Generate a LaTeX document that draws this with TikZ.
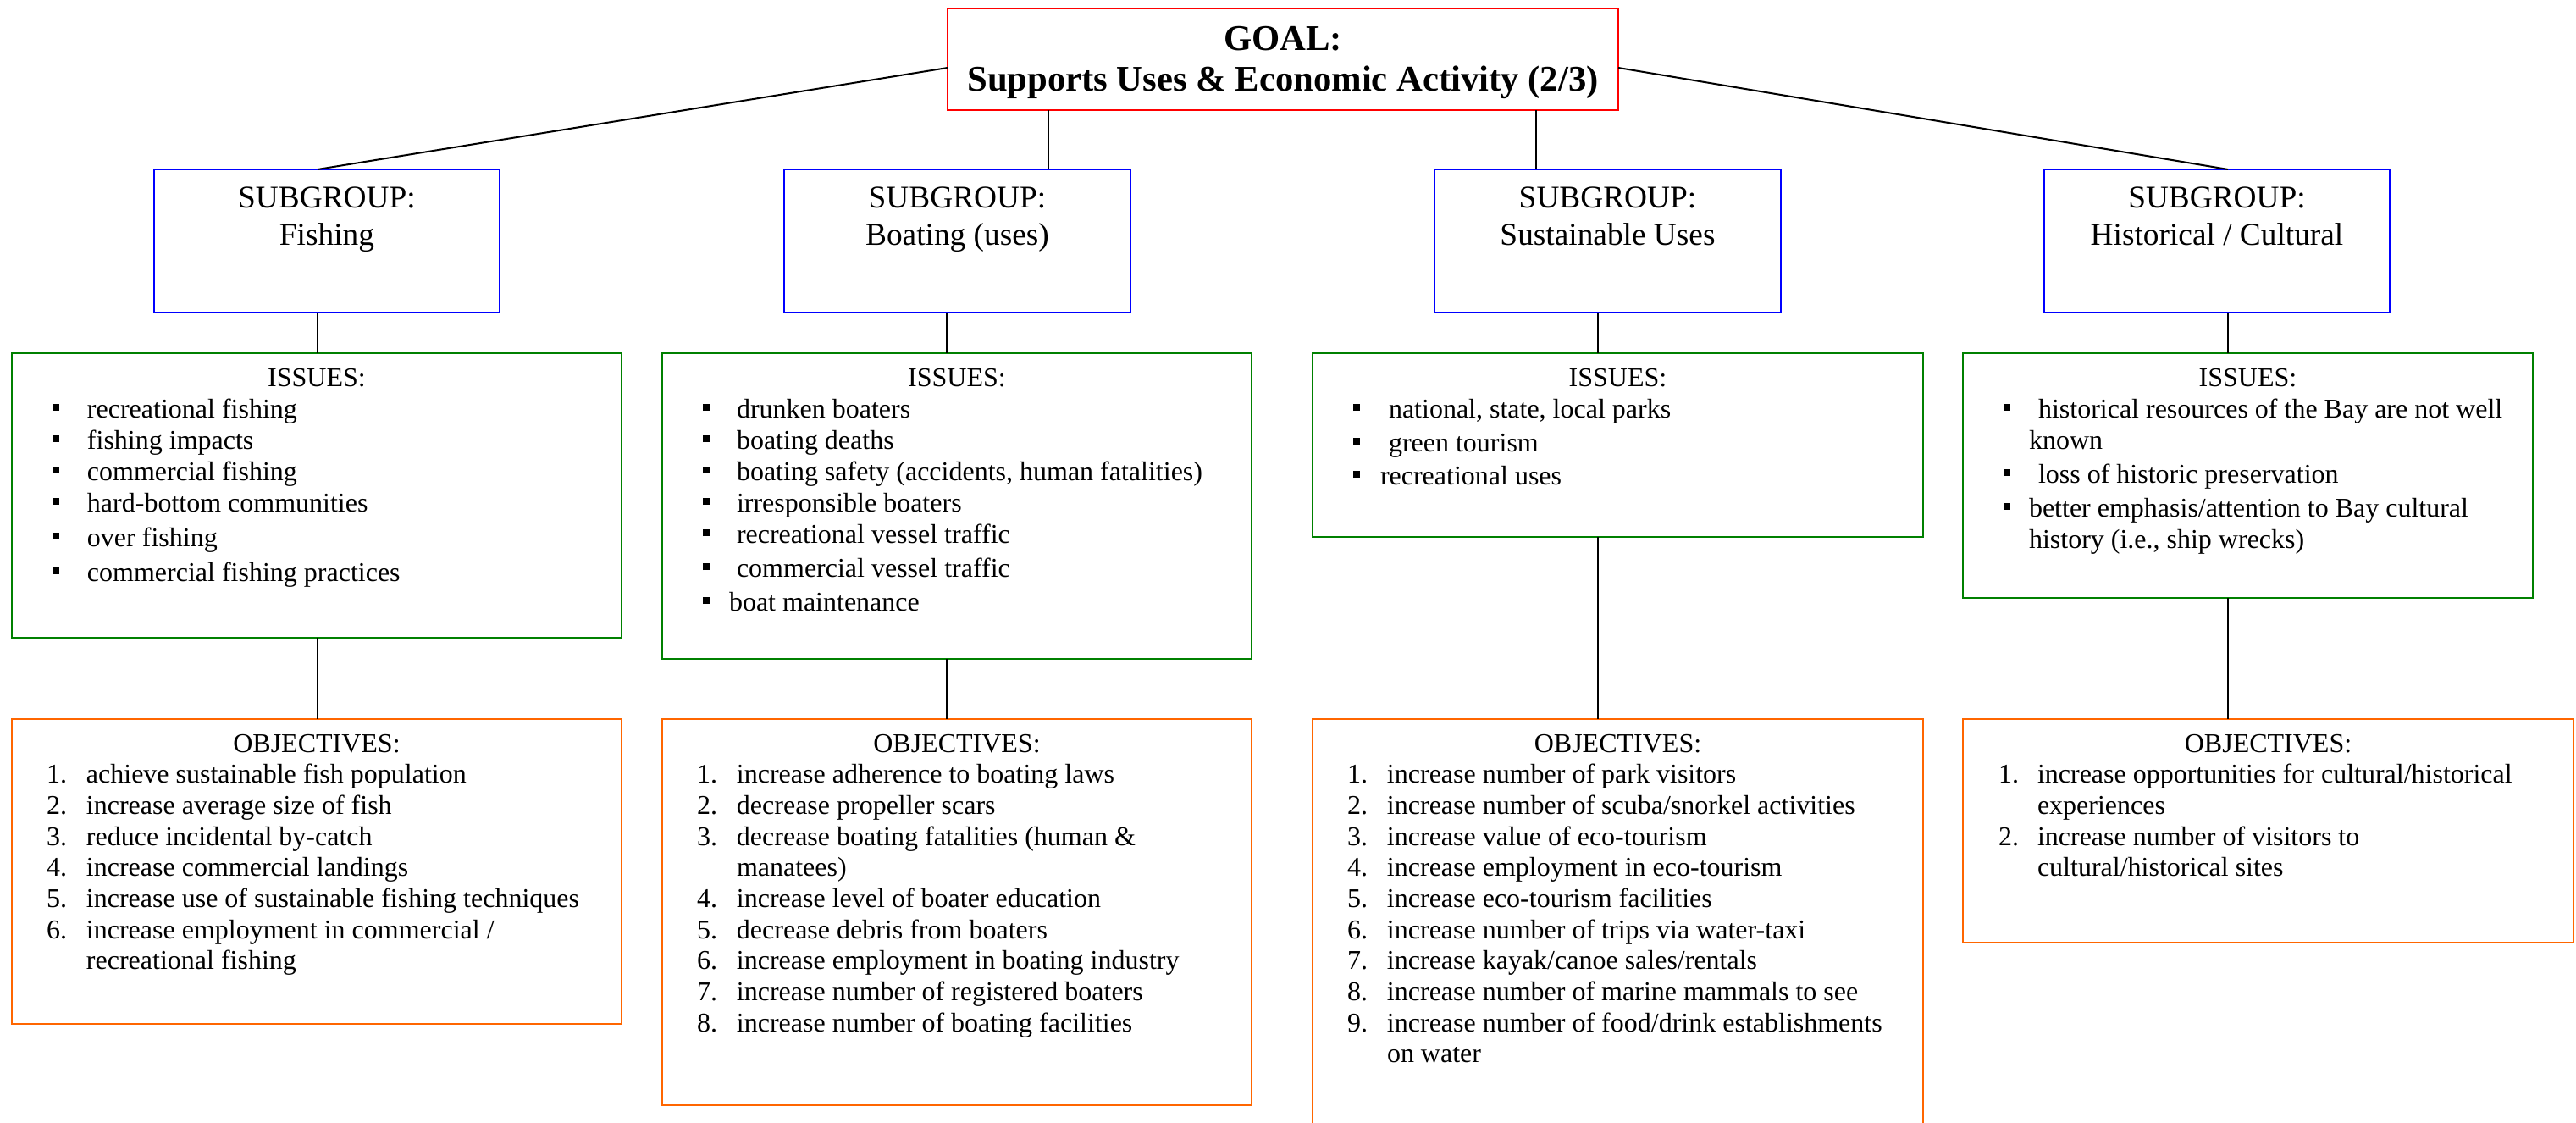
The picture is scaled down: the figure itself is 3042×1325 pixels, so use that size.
\documentclass[tikz,border=0pt]{standalone}
\usepackage{fontspec}
\setmainfont{Liberation Serif}

% one drawing unit
\newlength\pxu
\setlength\pxu{0.375pt}

\definecolor{goalred}{RGB}{255,0,0}
\definecolor{subblue}{RGB}{0,0,255}
\definecolor{issgreen}{RGB}{0,128,0}
\definecolor{objorange}{RGB}{255,102,0}

% list lines: bullet item, continuation line, numbered item
\newcommand\bulitem[2]{\leavevmode\hbox to 0pt{\hspace*{48\pxu}\rule[8\pxu]{8\pxu}{8\pxu}\hss}\hspace*{#1\pxu}#2}
\newcommand\contline[2]{\leavevmode\hspace*{#1\pxu}#2}
\newcommand\objitem[3][41]{\leavevmode\hbox to 0pt{\hspace*{#1\pxu}#2.\hss}\hspace*{88\pxu}#3}

\tikzset{
  frame/.style={draw, line width=2\pxu, inner sep=0pt, outer sep=0pt, anchor=north west},
  wh/.style 2 args={minimum width=#1\pxu, minimum height=#2\pxu},
  goalbox/.style={frame, draw=goalred},
  subbox/.style={frame, draw=subblue},
  issbox/.style={frame, draw=issgreen},
  objbox/.style={frame, draw=objorange},
  boxtext/.style={anchor=north west, inner sep=0pt, outer sep=0pt},
  link/.style={draw=black, line width=2\pxu},
}

\begin{document}
\begin{tikzpicture}[x=0.375pt,y=-0.375pt]
\useasboundingbox (0,0) rectangle (3042,1325);
\clip (0,0) rectangle (3042,1325);
\fill[white] (0,0) rectangle (3042,1325);

% ---------- goal ----------
\node[goalbox, wh={792}{120}] (goal) at (1119,10) {};
\node[boxtext] (goalt) at (goal.north west) {\parbox[t]{792\pxu}{\centering
  \fontsize{16pt}{18pt}\selectfont\bfseries
  \rule{0pt}{49\pxu}GOAL:\\ Supports Uses \& Economic Activity (2/3)}};

% ---------- subgroups ----------
\node[subbox, wh={408}{169}] (sub1) at (182,200) {};
\node[subbox, wh={409}{169}] (sub2) at (926,200) {};
\node[subbox, wh={409}{169}] (sub3) at (1694,200) {};
\node[subbox, wh={408}{169}] (sub4) at (2414,200) {};

\node[boxtext] (sub1t) at (sub1.north west) {\parbox[t]{408\pxu}{\centering
  \fontsize{14pt}{16.5pt}\selectfont\rule{0pt}{45\pxu}SUBGROUP:\\ Fishing}};
\node[boxtext] (sub2t) at (sub2.north west) {\parbox[t]{409\pxu}{\centering
  \fontsize{14pt}{16.5pt}\selectfont\rule{0pt}{45\pxu}SUBGROUP:\\ Boating (uses)}};
\node[boxtext] (sub3t) at (sub3.north west) {\parbox[t]{409\pxu}{\centering
  \fontsize{14pt}{16.5pt}\selectfont\rule{0pt}{45\pxu}SUBGROUP:\\ Sustainable Uses}};
\node[boxtext] (sub4t) at (sub4.north west) {\parbox[t]{408\pxu}{\centering
  \fontsize{14pt}{16.5pt}\selectfont\rule{0pt}{45\pxu}SUBGROUP:\\ Historical / Cultural}};

% ---------- issues ----------
\node[issbox, wh={720}{336}] (iss1) at (14,417) {};
\node[issbox, wh={696}{361}] (iss2) at (782,417) {};
\node[issbox, wh={721}{217}] (iss3) at (1550,417) {};
\node[issbox, wh={673}{289}] (iss4) at (2318,417) {};

\node[boxtext] (iss1t) at (iss1.north west) {\parbox[t]{720\pxu}{\raggedright
  \fontsize{12pt}{13.875pt}\selectfont
  \rule{0pt}{39\pxu}\makebox[\linewidth]{ISSUES:}\\
  \bulitem{89}{recreational fishing}\\
  \bulitem{89}{fishing impacts}\\
  \bulitem{89}{commercial fishing}\\
  \bulitem{89}{hard-bottom communities}\\[4\pxu]
  \bulitem{89}{over fishing}\\[4\pxu]
  \bulitem{89}{commercial fishing practices}}};

\node[boxtext] (iss2t) at (iss2.north west) {\parbox[t]{696\pxu}{\raggedright
  \fontsize{12pt}{13.875pt}\selectfont
  \rule{0pt}{39\pxu}\makebox[\linewidth]{ISSUES:}\\
  \bulitem{88}{drunken boaters}\\
  \bulitem{88}{boating deaths}\\
  \bulitem{88}{boating safety (accidents, human fatalities)}\\
  \bulitem{88}{irresponsible boaters}\\
  \bulitem{88}{recreational vessel traffic}\\[3\pxu]
  \bulitem{88}{commercial vessel traffic}\\[3\pxu]
  \bulitem{79}{boat maintenance}}};

\node[boxtext] (iss3t) at (iss3.north west) {\parbox[t]{721\pxu}{\raggedright
  \fontsize{12pt}{13.875pt}\selectfont
  \rule{0pt}{39\pxu}\makebox[\linewidth]{ISSUES:}\\
  \bulitem{90}{national, state, local parks}\\[3\pxu]
  \bulitem{90}{green tourism}\\[2\pxu]
  \bulitem{80}{recreational uses}}};

\node[boxtext] (iss4t) at (iss4.north west) {\parbox[t]{673\pxu}{\raggedright
  \fontsize{12pt}{13.875pt}\selectfont
  \rule{0pt}{39\pxu}\makebox[\linewidth]{ISSUES:}\\
  \bulitem{89}{historical resources of the Bay are not well}\\
  \contline{78}{known}\\[3\pxu]
  \bulitem{89}{loss of historic preservation}\\[3\pxu]
  \bulitem{78}{better emphasis/attention to Bay cultural}\\
  \contline{78}{history (i.e., ship wrecks)}}};

% ---------- objectives ----------
\node[objbox, wh={720}{360}] (obj1) at (14,849) {};
\node[objbox, wh={696}{456}] (obj2) at (782,849) {};
\node[objbox, wh={721}{520}] (obj3) at (1550,849) {};
\node[objbox, wh={721}{264}] (obj4) at (2318,849) {};

\node[boxtext] (obj1t) at (obj1.north west) {\parbox[t]{720\pxu}{\raggedright
  \fontsize{12pt}{13.76pt}\selectfont
  \rule{0pt}{39\pxu}\makebox[\linewidth]{OBJECTIVES:}\\
  \objitem{1}{achieve sustainable fish population}\\
  \objitem{2}{increase average size of fish}\\
  \objitem{3}{reduce incidental by-catch}\\
  \objitem{4}{increase commercial landings}\\
  \objitem{5}{increase use of sustainable fishing techniques}\\
  \objitem{6}{increase employment in commercial /}\\
  \contline{88}{recreational fishing}}};

\node[boxtext] (obj2t) at (obj2.north west) {\parbox[t]{696\pxu}{\raggedright
  \fontsize{12pt}{13.76pt}\selectfont
  \rule{0pt}{39\pxu}\makebox[\linewidth]{OBJECTIVES:}\\
  \objitem{1}{increase adherence to boating laws}\\
  \objitem{2}{decrease propeller scars}\\
  \objitem{3}{decrease boating fatalities (human \&}\\
  \contline{88}{manatees)}\\
  \objitem{4}{increase level of boater education}\\
  \objitem{5}{decrease debris from boaters}\\
  \objitem{6}{increase employment in boating industry}\\
  \objitem{7}{increase number of registered boaters}\\
  \objitem{8}{increase number of boating facilities}}};

\node[boxtext] (obj3t) at (obj3.north west) {\parbox[t]{721\pxu}{\raggedright
  \fontsize{12pt}{13.76pt}\selectfont
  \rule{0pt}{39\pxu}\makebox[\linewidth]{OBJECTIVES:}\\
  \objitem{1}{increase number of park visitors}\\
  \objitem{2}{increase number of scuba/snorkel activities}\\
  \objitem{3}{increase value of eco-tourism}\\
  \objitem{4}{increase employment in eco-tourism}\\
  \objitem{5}{increase eco-tourism facilities}\\
  \objitem{6}{increase number of trips via water-taxi}\\
  \objitem{7}{increase kayak/canoe sales/rentals}\\
  \objitem{8}{increase number of marine mammals to see}\\
  \objitem{9}{increase number of food/drink establishments}\\
  \contline{88}{on water}}};

\node[boxtext] (obj4t) at (obj4.north west) {\parbox[t]{721\pxu}{\raggedright
  \fontsize{12pt}{13.76pt}\selectfont
  \rule{0pt}{39\pxu}\makebox[\linewidth]{OBJECTIVES:}\\
  \objitem[42]{1}{increase opportunities for cultural/historical}\\
  \contline{88}{experiences}\\
  \objitem[42]{2}{increase number of visitors to}\\
  \contline{88}{cultural/historical sites}}};

% ---------- connectors ----------
\coordinate (c1) at (375,0);
\coordinate (c2) at (1118,0);
\coordinate (c3) at (1887,0);
\coordinate (c4) at (2631,0);
\coordinate (g2) at (1238,0);
\coordinate (g3) at (1814,0);

\draw[link] ([yshift=-10\pxu]goal.west) -- (sub1.north -| c1);
\draw[link] ([yshift=-10\pxu]goal.east) -- (sub4.north -| c4);
\draw[link] (goal.south -| g2) -- (sub2.north -| g2);
\draw[link] (goal.south -| g3) -- (sub3.north -| g3);

\draw[link] (sub1.south -| c1) -- (iss1.north -| c1);
\draw[link] (sub2.south -| c2) -- (iss2.north -| c2);
\draw[link] (sub3.south -| c3) -- (iss3.north -| c3);
\draw[link] (sub4.south -| c4) -- (iss4.north -| c4);

\draw[link] (iss1.south -| c1) -- (obj1.north -| c1);
\draw[link] (iss2.south -| c2) -- (obj2.north -| c2);
\draw[link] (iss3.south -| c3) -- (obj3.north -| c3);
\draw[link] (iss4.south -| c4) -- (obj4.north -| c4);
\end{tikzpicture}
\end{document}
